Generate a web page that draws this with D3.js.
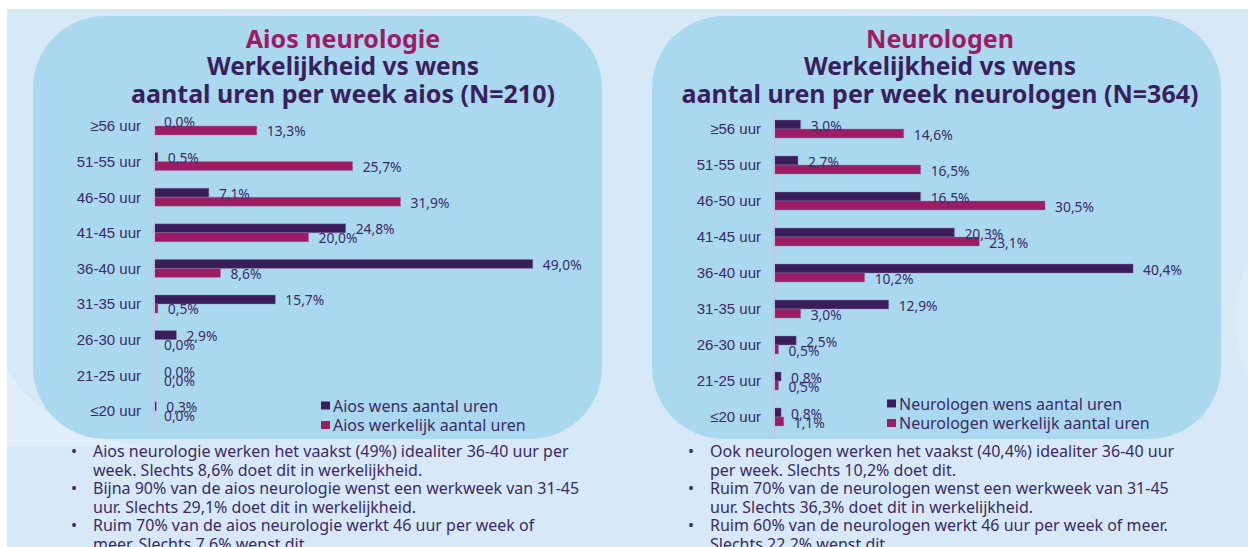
<!DOCTYPE html>
<meta charset="utf-8">
<style>
body { margin: 0; background: #fff; }
svg { display: block; font-family: "Noto Sans", sans-serif; }
.axis path { stroke: #cdbde3; stroke-width: 1; }
.axis text { fill: #3c2a63; font-size: 15px; }
.val { fill: #3c2a63; font-size: 13.8px; }
.legend text { fill: #3c2a63; font-size: 16px; }
.bullets text { fill: #3c2a63; font-size: 16px; }
</style>
<svg width="1248" height="547"></svg>
<script src="https://cdn.jsdelivr.net/npm/d3@7"></script>
<script>
var categories = ["≥56 uur", "51-55 uur", "46-50 uur", "41-45 uur", "36-40 uur", "31-35 uur", "26-30 uur", "21-25 uur", "≤20 uur"];
var series = ["wens", "werkelijk"];

var aiosWens      = [0.0, 0.5, 7.1, 24.8, 49.0, 15.7, 2.9, 0.0, 0.3];
var aiosWerkelijk = [13.3, 25.7, 31.9, 20.0, 8.6, 0.5, 0.0, 0.0, 0.0];
var neuroWens      = [3.0, 2.7, 16.5, 20.3, 40.4, 12.9, 2.5, 0.8, 0.8];
var neuroWerkelijk = [14.6, 16.5, 30.5, 23.1, 10.2, 3.0, 0.5, 0.5, 1.1];

var aiosTitle = ["Aios neurologie", "Werkelijkheid vs wens", "aantal uren per week aios (N=210)"];
var neuroTitle = ["Neurologen", "Werkelijkheid vs wens", "aantal uren per week neurologen (N=364)"];
var aiosLegend = ["Aios wens aantal uren", "Aios werkelijk aantal uren"];
var neuroLegend = ["Neurologen wens aantal uren", "Neurologen werkelijk aantal uren"];

var aiosBullets = [
  ["Aios neurologie werken het vaakst (49%) idealiter 36-40 uur per", "week. Slechts 8,6% doet dit in werkelijkheid."],
  ["Bijna 90% van de aios neurologie wenst een werkweek van 31-45", "uur. Slechts 29,1% doet dit in werkelijkheid."],
  ["Ruim 70% van de aios neurologie werkt 46 uur per week of", "meer. Slechts 7,6% wenst dit."]
];
var neuroBullets = [
  ["Ook neurologen werken het vaakst (40,4%) idealiter 36-40 uur", "per week. Slechts 10,2% doet dit."],
  ["Ruim 70% van de neurologen wenst een werkweek van 31-45", "uur. Slechts 36,3% doet dit in werkelijkheid."],
  ["Ruim 60% van de neurologen werkt 46 uur per week of meer.", "Slechts 22,2% wenst dit."]
];

var colors = {wens: "#3a1e5c", werkelijk: "#9e1c64"};
var fmt = function(v) { return d3.format(".1f")(v).replace(".", ",") + "%"; };

var svg = d3.select("svg");

// background
svg.append("rect").attr("x", 7).attr("y", 9).attr("width", 1241).attr("height", 538).attr("fill", "#d7e9f6");
svg.append("path")
  .attr("d", "M7,370 C40,420 90,440 150,447 L7,447 Z")
  .attr("fill", "#dfeef9");
svg.append("path")
  .attr("d", "M1248,260 C1232,295 1230,340 1248,375 Z")
  .attr("fill", "#dcecf8");

function panel(opt) {
  var g = svg.append("g");

  g.append("rect")
    .attr("x", opt.px).attr("y", 16)
    .attr("width", opt.pw).attr("height", 423)
    .attr("rx", 72).attr("ry", 72)
    .attr("fill", "#aad9ef");

  // titles
  var tt = g.append("text").attr("text-anchor", "middle").attr("font-weight", "bold");
  tt.selectAll("tspan")
    .data(opt.title)
    .enter().append("tspan")
      .attr("x", opt.tx)
      .attr("y", function(d, i) { return [48, 75, 103][i]; })
      .attr("font-size", function(d, i) { return i == 1 ? "24.5px" : "25px"; })
      .attr("fill", function(d, i) { return i == 0 ? "#a01a66" : "#3a1f5e"; })
      .text(function(d) { return d; });

  var y = d3.scaleBand().domain(categories).range(opt.yr);
  var barH = 9;
  var y1 = d3.scaleBand().domain(series)
    .range([0, y.bandwidth()])
    .paddingOuter(y.bandwidth() / (2 * barH) - 1);
  var x = d3.scaleLinear().domain([0, opt.xmax]).range(opt.xr);

  var rows = categories.map(function(c, i) {
    return {cat: c, wens: opt.wens[i], werkelijk: opt.werkelijk[i]};
  });

  var rg = g.selectAll(".row")
    .data(rows)
    .enter().append("g")
      .attr("class", "row")
      .attr("transform", function(d) { return "translate(0," + y(d.cat) + ")"; });

  var cells = rg.selectAll(".cell")
    .data(function(d) { return series.map(function(s) { return {s: s, v: d[s]}; }); })
    .enter();

  cells.append("rect")
    .attr("x", x(0))
    .attr("y", function(d) { return y1(d.s); })
    .attr("width", function(d) { return x(d.v) - x(0); })
    .attr("height", y1.bandwidth())
    .attr("fill", function(d) { return colors[d.s]; })
    .attr("stroke", function(d) { return d.v > 0 ? "#8f86b3" : "none"; })
    .attr("stroke-opacity", 0.5)
    .attr("stroke-width", 0.8);

  cells.append("text")
    .attr("class", "val")
    .attr("x", function(d) { return x(d.v) + 10; })
    .attr("y", function(d) { return y1(d.s) + y1.bandwidth() / 2 + 6; })
    .text(function(d) { return fmt(d.v); });

  var ax = g.append("g")
    .attr("class", "axis")
    .attr("transform", "translate(" + x(0) + ",0)")
    .call(d3.axisLeft(y).tickSize(0).tickPadding(13));
  ax.selectAll("text").attr("font-family", null).attr("font-size", null).attr("dy", "0.36em");
  ax.select(".domain").attr("stroke", "#cdbde3");

  // legend
  var lg = g.append("g").attr("class", "legend");
  var li = lg.selectAll("g")
    .data(series)
    .enter().append("g")
      .attr("transform", function(d, i) { return "translate(" + opt.lx + "," + (opt.ly + i * 19.5) + ")"; });
  li.append("rect")
    .attr("x", 0).attr("y", -4.5)
    .attr("width", 9).attr("height", 8)
    .attr("fill", function(d) { return colors[d]; });
  li.append("text")
    .attr("x", 12).attr("y", 5.5)
    .text(function(d, i) { return opt.legend[i]; });

  // bullets
  var bg = g.append("g").attr("class", "bullets");
  opt.bullets.forEach(function(lines, j) {
    bg.append("text")
      .attr("x", opt.bx).attr("y", 457 + j * 37)
      .attr("font-size", "13px")
      .text("•");
    lines.forEach(function(line, i) {
      bg.append("text")
        .attr("x", opt.bx + 22)
        .attr("y", 457 + j * 37 + i * 18.5)
        .text(line);
    });
  });
}

panel({
  px: 33, pw: 569, tx: 343,
  title: aiosTitle,
  yr: [108.2, 428.6], xr: [154, 540.5], xmax: 50,
  wens: aiosWens, werkelijk: aiosWerkelijk,
  legend: aiosLegend, lx: 321, ly: 406,
  bullets: aiosBullets, bx: 71
});

panel({
  px: 652, pw: 569, tx: 940,
  title: neuroTitle,
  yr: [111, 435], xr: [774, 1174], xmax: 45,
  wens: neuroWens, werkelijk: neuroWerkelijk,
  legend: neuroLegend, lx: 887, ly: 404,
  bullets: neuroBullets, bx: 688
});
</script>
